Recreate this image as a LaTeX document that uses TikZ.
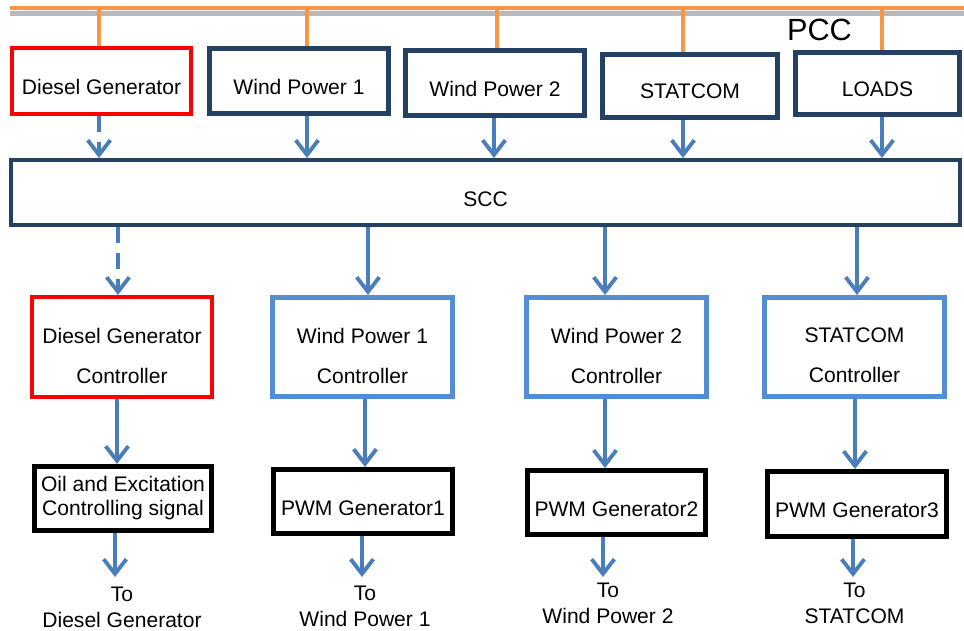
\documentclass[tikz,border=0pt]{standalone}
\usepackage{fontspec}
\setmainfont{Liberation Sans}
\usetikzlibrary{arrows.meta}
\definecolor{navy}{RGB}{36,64,98}
\definecolor{ctrlblue}{RGB}{84,141,212}
\definecolor{arrblue}{RGB}{74,126,187}
\definecolor{busorange}{RGB}{247,150,70}
\definecolor{pured}{RGB}{255,0,0}
\begin{document}
\begin{tikzpicture}[x=0.75pt,y=-0.75pt,
 box/.style={draw, fill=white, inner sep=0pt},
 sz/.style 2 args={minimum width={#1*0.75pt}, minimum height={#2*0.75pt}},
 topbox/.style={box, draw=navy, line width=3.4pt},
 redbox/.style={box, draw=pured, line width=3pt},
 ctrlbox/.style={box, draw=ctrlblue, line width=3.4pt},
 blkbox/.style={box, draw=black, line width=3.75pt},
 txt/.style={font=\fontsize{15.8}{19.5}\selectfont, align=center, inner sep=0pt},
 arr/.style={draw=arrblue, line width=2.9pt, -{Straight Barb[length=11pt,width=17pt]}},
 darr/.style={arr, dash pattern=on 12pt off 7.5pt},
 busline/.style={draw=busorange, line width=3pt},
 drop/.style={draw=busorange, line width=3pt},
]
\useasboundingbox (0,0) rectangle (964,631);

% bus
\coordinate (busL) at (10,8);
\coordinate (busR) at (964,8);
\coordinate (hatL) at (10,13.5);
\coordinate (hatR) at (964,13.5);
\draw[gray!55, line width=3.5pt] (hatL) -- (hatR);
\draw[busline] (busL) -- (busR);
\node[font=\fontsize{23}{26}\selectfont, inner sep=0pt] (pcc) at (819.5,30) {PCC};

% column coordinates
\coordinate (d1) at (99,0);  \coordinate (d2) at (307,0); \coordinate (d3) at (497,0);
\coordinate (d4) at (683,0); \coordinate (d5) at (882,0);
\coordinate (a3) at (494,0);
\coordinate (b1) at (118,0); \coordinate (b2) at (368,0); \coordinate (b3) at (605,0); \coordinate (b4) at (857,0);
\coordinate (c1) at (117,0); \coordinate (c2) at (365,0); \coordinate (c3) at (605,0); \coordinate (c4) at (855,0);
\coordinate (e1) at (115,577); \coordinate (e2) at (362,577); \coordinate (e3) at (603,577); \coordinate (e4) at (853,577);

% top boxes
\node[redbox, sz={179}{66}] (dg) at (101.5,81) {};
\node[topbox, sz={179.5}{65.5}] (wp1) at (299,81) {};
\node[topbox, sz={179.5}{65.5}] (wp2) at (495,83) {};
\node[topbox, sz={175.5}{63.5}] (st) at (690,86) {};
\node[topbox, sz={164.5}{62.5}] (ld) at (877.5,83.5) {};
\node[txt, yshift=-4.5pt] (dgT) at (dg) {Diesel Generator};
\node[txt, yshift=-4.5pt] (wp1T) at (wp1) {Wind Power 1};
\node[txt, yshift=-4.5pt] (wp2T) at (wp2) {Wind Power 2};
\node[txt, yshift=-4pt] (stT) at (st) {STATCOM};
\node[txt, yshift=-4.5pt] (ldT) at (ld) {LOADS};

% drops from bus
\draw[drop] (busL -| d1) -- (dg.north -| d1);
\draw[drop] (busL -| d2) -- (wp1.north -| d2);
\draw[drop] (busL -| d3) -- (wp2.north -| d3);
\draw[drop] (busL -| d4) -- (st.north -| d4);
\draw[drop] (busL -| d5) -- (ld.north -| d5);

% SCC
\node[topbox, line width=3pt, sz={949}{65}] (scc) at (485.5,192.5) {};
\node[txt, yshift=-5pt] (sccT) at (scc) {SCC};

\draw[darr] (dg.south -| d1) -- (scc.north -| d1);
\draw[arr] (wp1.south -| d2) -- (scc.north -| d2);
\draw[arr] (wp2.south -| a3) -- (scc.north -| a3);
\draw[arr] (st.south -| d4) -- (scc.north -| d4);
\draw[arr] (ld.south -| d5) -- (scc.north -| d5);

% controllers
\node[redbox, sz={180}{100}] (cdg) at (122,347) {};
\node[ctrlbox, sz={180.5}{99.5}] (cwp1) at (362.5,347) {};
\node[ctrlbox, sz={180.5}{99.5}] (cwp2) at (616.5,347) {};
\node[ctrlbox, sz={179.5}{99.5}] (cst) at (854.5,347) {};
\node[txt, yshift=-6.5pt] (cdgT) at (cdg) {Diesel Generator\\[10.5pt]Controller};
\node[txt, yshift=-6.5pt] (cwp1T) at (cwp1) {Wind Power 1\\[10.5pt]Controller};
\node[txt, yshift=-6.5pt] (cwp2T) at (cwp2) {Wind Power 2\\[10.5pt]Controller};
\node[txt, yshift=-6.5pt] (cstT) at (cst) {STATCOM\\[10.5pt]Controller};

\draw[darr] (scc.south -| b1) -- (cdg.north -| b1);
\draw[arr] (scc.south -| b2) -- (cwp1.north -| b2);
\draw[arr] (scc.south -| b3) -- (cwp2.north -| b3);
\draw[arr] (scc.south -| b4) -- (cst.north -| b4);

% bottom boxes
\node[blkbox, sz={177}{64}] (oil) at (123,498.5) {};
\node[blkbox, sz={179}{64}] (pwm1) at (363,501.5) {};
\node[blkbox, sz={178}{64}] (pwm2) at (616.5,502.5) {};
\node[blkbox, sz={179}{65}] (pwm3) at (857,504) {};
\node[txt, yshift=0pt] (oilT) at (oil) {Oil and Excitation\\[-1.5pt]Controlling signal};
\node[txt, yshift=-5pt] (pwm1T) at (pwm1) {PWM Generator1};
\node[txt, yshift=-5pt] (pwm2T) at (pwm2) {PWM Generator2};
\node[txt, yshift=-5pt] (pwm3T) at (pwm3) {PWM Generator3};

\draw[arr] (cdg.south -| c1) -- (oil.north -| c1);
\draw[arr] (cwp1.south -| c2) -- (pwm1.north -| c2);
\draw[arr] (cwp2.south -| c3) -- (pwm2.north -| c3);
\draw[arr] (cst.south -| c4) -- (pwm3.north -| c4);

% outputs
\draw[arr] (oil.south -| e1) -- (e1);
\draw[arr] (pwm1.south -| e2) -- (e2);
\draw[arr] (pwm2.south -| e3) -- (e3);
\draw[arr] (pwm3.south -| e4) -- (e4);

\node[txt, anchor=north] (tdg) at (122,587) {To\\Diesel Generator};
\node[txt, anchor=north] (twp1) at (365,586) {To\\Wind Power 1};
\node[txt, anchor=north] (twp2) at (608,583) {To\\Wind Power 2};
\node[txt, anchor=north] (tst) at (854.5,583) {To\\STATCOM};
\end{tikzpicture}
\end{document}
